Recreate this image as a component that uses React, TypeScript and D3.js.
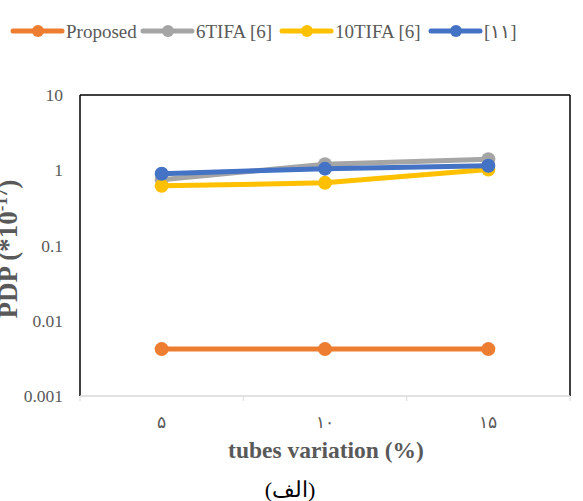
import React from "react";
import * as d3 from "d3";

const categories = ["۵", "۱۰", "۱۵"];
const seriesNames = ["Proposed", "6TIFA [6]", "10TIFA [6]", "[۱۱]"];
const proposed = [0.0042, 0.0042, 0.0042];
const tifa6 = [0.75, 1.2, 1.4];
const tifa10 = [0.62, 0.68, 1.02];
const ref11 = [0.9, 1.05, 1.15];
const yTicks = [0.001, 0.01, 0.1, 1, 10];
const yTickLabels = ["0.001", "0.01", "0.1", "1", "10"];
const colors = ["#ED7D31", "#A5A5A5", "#FFC000", "#4472C4"];

export default function App() {
  const W = 583, H = 501;
  const left = 80, right = 570, top = 95, bottom = 396;
  const x = d3.scaleBand<string>().domain(categories).range([left, right]);
  const y = d3.scaleLog().domain([0.001, 10]).range([bottom, top]);
  const series = [proposed, tifa6, tifa10, ref11];
  const line = d3
    .line<number>()
    .x((_, i) => (x(categories[i]) as number) + x.bandwidth() / 2)
    .y((d) => y(d));
  const font = "'Liberation Serif', 'Times New Roman', serif";
  const legendX = [13, 143, 282, 431];
  const tickXs = [left, ...categories.map((c) => (x(c) as number) + x.bandwidth())];
  return (
    <svg width={W} height={H} style={{ position: "absolute", left: 0, top: 0 }} fontFamily={font}>
      <rect width={W} height={H} fill="#fff" />
      {/* legend */}
      {seriesNames.map((n, i) => (
        <g key={n}>
          <line x1={legendX[i]} x2={legendX[i] + 49} y1={31} y2={31} stroke={colors[i]} strokeWidth={5} strokeLinecap="round" />
          <circle cx={legendX[i] + 25} cy={31} r={6} fill={colors[i]} />
          <text x={legendX[i] + 53} y={37.5} fontSize={19} fill="#595959">{n}</text>
        </g>
      ))}
      {/* plot frame */}
      <line x1={left} x2={right} y1={top} y2={top} stroke="#000" strokeWidth={1.5} />
      <line x1={left} x2={left} y1={top} y2={bottom} stroke="#000" strokeWidth={1.5} />
      <line x1={right} x2={right} y1={top} y2={bottom} stroke="#000" strokeWidth={1.5} />
      <line x1={left} x2={right} y1={bottom} y2={bottom} stroke="#D9D9D9" strokeWidth={1.5} />
      {tickXs.map((tx, i) => (
        <line key={i} x1={tx} x2={tx} y1={bottom} y2={bottom + 5} stroke="#D9D9D9" strokeWidth={1} />
      ))}
      {/* y ticks */}
      {yTicks.map((t, i) => (
        <text key={t} x={63} y={y(t) + 6} fontSize={17.5} fill="#595959" textAnchor="end">{yTickLabels[i]}</text>
      ))}
      {/* x ticks */}
      {categories.map((c) => (
        <text key={c} x={(x(c) as number) + x.bandwidth() / 2} y={428} fontSize={17} fill="#595959" textAnchor="middle">{c}</text>
      ))}
      {/* series */}
      {series.map((s, i) => (
        <g key={i}>
          <path d={line(s) as string} fill="none" stroke={colors[i]} strokeWidth={5} />
          {s.map((v, j) => (
            <circle key={j} cx={(x(categories[j]) as number) + x.bandwidth() / 2} cy={y(v)} r={7} fill={colors[i]} />
          ))}
        </g>
      ))}
      {/* axis titles */}
      <text x={326} y={458} fontSize={23.5} fontWeight="bold" fill="#595959" textAnchor="middle">tubes variation (%)</text>
      <text transform={`translate(17,249) rotate(-90)`} fontSize={27} fontWeight="bold" fill="#595959" textAnchor="middle">
        PDP (*10<tspan dy={-10} fontSize={17}>-17</tspan><tspan dy={10}>)</tspan>
      </text>
      <text x={290} y={497} fontSize={22} fill="#000" textAnchor="middle">(الف)</text>
    </svg>
  );
}
